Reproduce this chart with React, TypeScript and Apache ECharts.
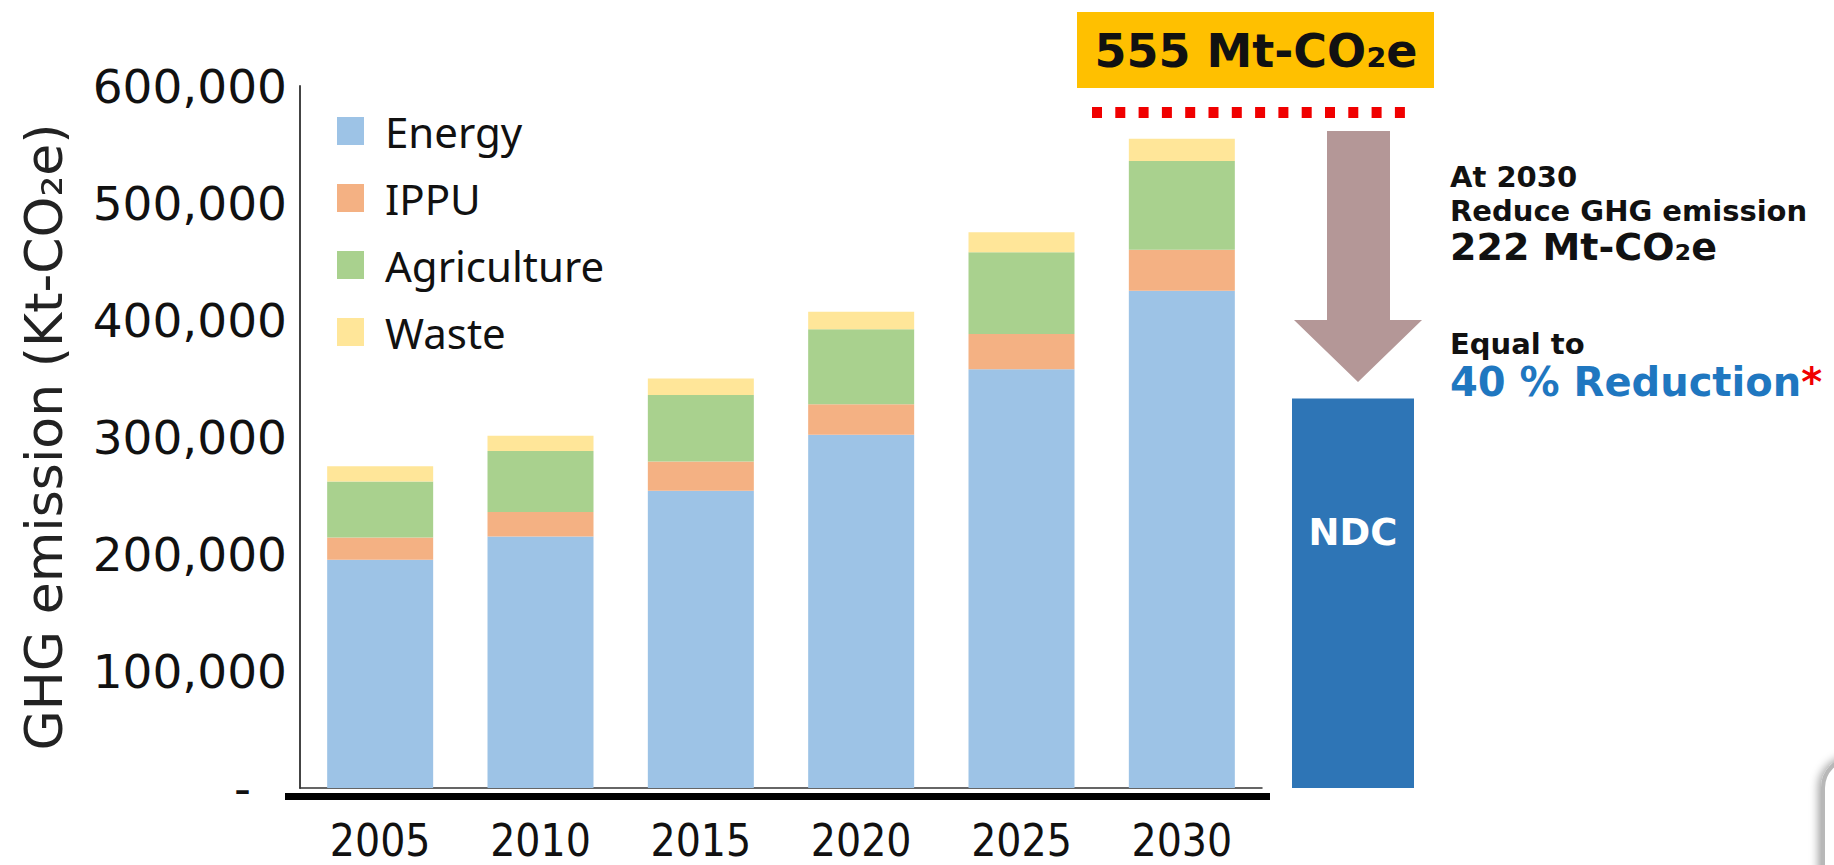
import React, { useEffect, useRef } from 'react';
import * as echarts from 'echarts';

const years = ['2005', '2010', '2015', '2020', '2025', '2030'];
const energy = [195000, 215000, 254000, 302000, 358000, 425000];
const ippu = [19000, 21000, 25000, 26000, 30000, 35000];
const agriculture = [48000, 52000, 57000, 64000, 70000, 76000];
const waste = [13000, 13000, 14000, 15000, 17000, 19000];
const ndcCategory = ['NDC'];
const ndcValue = [333000];
const seriesNames = ['Energy', 'IPPU', 'Agriculture', 'Waste'];
const seriesColors = ['#9DC3E6', '#F4B183', '#A9D18E', '#FFE699'];
const yMax = 600000;
const yInterval = 100000;

const SANS = '"DejaVu Sans", Verdana, sans-serif';

export default function App() {
  const ref = useRef<HTMLDivElement>(null);
  useEffect(() => {
    if (!ref.current) return;
    const chart = echarts.init(ref.current, undefined, { renderer: 'svg' });
    const values = [energy, ippu, agriculture, waste];
    const barSeries = seriesNames.map((name, i) => ({
      name,
      type: 'bar',
      stack: 'total',
      xAxisIndex: 0,
      yAxisIndex: 0,
      barWidth: 106,
      itemStyle: { color: seriesColors[i] },
      data: values[i],
    }));
    const note = (text: string, y: number, size: number) => ({
      type: 'text',
      x: 1450,
      y,
      silent: true,
      style: {
        text,
        verticalAlign: 'middle',
        fontFamily: SANS,
        fontWeight: 'bold',
        fontSize: size,
        lineHeight: size,
        fill: '#111',
      },
    });
    chart.setOption({
      animation: false,
      backgroundColor: '#ffffff',
      legend: {
        orient: 'vertical',
        left: 332,
        top: 105,
        itemWidth: 27,
        itemHeight: 28,
        itemGap: 25,
        icon: 'rect',
        data: seriesNames,
        textStyle: {
          fontFamily: '"Noto Sans", sans-serif',
          fontSize: 42,
          color: '#111',
          padding: [0, 0, 0, 16],
        },
      },
      grid: [
        { left: 300, top: 86, width: 962, height: 702, containLabel: false, outerBoundsMode: 'none' },
        { left: 1292, top: 86, width: 122, height: 702, containLabel: false, outerBoundsMode: 'none' },
      ],
      xAxis: [
        {
          type: 'category',
          gridIndex: 0,
          data: years,
          axisLine: { show: true, lineStyle: { color: '#333', width: 1.5 } },
          axisTick: { show: false },
          axisLabel: {
            margin: 30,
            fontSize: 44,
            lineHeight: 44,
            fontFamily: '"Liberation Sans Narrow", "DejaVu Sans Condensed", sans-serif',
            color: '#111',
          },
        },
        {
          type: 'category',
          gridIndex: 1,
          data: ndcCategory,
          show: false,
        },
      ],
      yAxis: [
        {
          type: 'value',
          gridIndex: 0,
          min: 0,
          max: yMax,
          interval: yInterval,
          name: 'GHG emission (Kt-CO₂e)',
          nameLocation: 'middle',
          nameGap: 230,
          nameTextStyle: { fontFamily: SANS, fontSize: 52, lineHeight: 52, color: '#222' },
          axisLine: { show: true, lineStyle: { color: '#444', width: 2 } },
          axisTick: { show: false },
          splitLine: { show: false },
          axisLabel: {
            margin: 13,
            fontFamily: SANS,
            fontSize: 47,
            color: '#111',
            formatter: (v: number) => (v === 0 ? '{z|-}' : v.toLocaleString('en-US')),
            rich: { z: { padding: [0, 36, 0, 0], fontFamily: SANS, fontSize: 47, color: '#111' } },
          },
        },
        {
          type: 'value',
          gridIndex: 1,
          min: 0,
          max: yMax,
          interval: yInterval,
          show: false,
          splitLine: { show: false },
        },
      ],
      series: [
        ...barSeries,
        {
          name: 'NDC',
          type: 'bar',
          xAxisIndex: 1,
          yAxisIndex: 1,
          barWidth: '100%',
          itemStyle: { color: '#2E75B6' },
          label: {
            show: true,
            formatter: 'NDC',
            position: ['50%', 134],
            align: 'center',
            verticalAlign: 'middle',
            color: '#ffffff',
            fontFamily: SANS,
            fontWeight: 'bold',
            fontSize: 37,
          },
          data: ndcValue,
        },
      ],
      graphic: {
        elements: [
          {
            type: 'line',
            shape: { x1: 285, y1: 796.5, x2: 1270, y2: 796.5 },
            style: { stroke: '#000', lineWidth: 7 },
            silent: true,
          },
          {
            type: 'rect',
            shape: { x: 1077, y: 12, width: 357, height: 76 },
            style: { fill: '#FFC000' },
            silent: true,
          },
          {
            type: 'text',
            x: 1256,
            y: 51,
            style: {
              text: '555 Mt-CO₂e',
              align: 'center',
              verticalAlign: 'middle',
              fontFamily: SANS,
              fontWeight: 'bold',
              fontSize: 46,
              lineHeight: 46,
              fill: '#111',
            },
            silent: true,
          },
          {
            type: 'line',
            shape: { x1: 1092, y1: 112.5, x2: 1405, y2: 112.5 },
            style: { stroke: '#F00000', lineWidth: 11, lineDash: [10, 13.3] },
            silent: true,
          },
          {
            type: 'polygon',
            shape: {
              points: [
                [1327, 131],
                [1390, 131],
                [1390, 320],
                [1422, 320],
                [1358, 382],
                [1294, 320],
                [1327, 320],
              ],
            },
            style: { fill: '#B49797' },
            silent: true,
          },
          note('At 2030', 177, 29),
          note('Reduce GHG emission', 211, 29),
          note('222 Mt-CO₂e', 247, 38),
          note('Equal to', 344, 29),
          {
            type: 'text',
            x: 1450,
            y: 382,
            silent: true,
            style: {
              text: '{b|40 % Reduction}{r|*}',
              verticalAlign: 'middle',
              fontFamily: SANS,
              fontWeight: 'bold',
              fontSize: 40,
              lineHeight: 40,
              rich: {
                b: { fill: '#1F77C0', fontFamily: SANS, fontWeight: 'bold', fontSize: 40, lineHeight: 40 },
                r: { fill: '#F00000', fontFamily: SANS, fontWeight: 'bold', fontSize: 40, lineHeight: 40 },
              },
            },
          },
          {
            type: 'rect',
            shape: { x: 1823, y: 758, width: 120, height: 200, r: 30 },
            style: { fill: '#ffffff', stroke: '#b8b8b8', lineWidth: 4, shadowBlur: 8, shadowColor: 'rgba(0,0,0,0.35)', shadowOffsetX: -3 },
            silent: true,
          },
        ],
      },
    });
    return () => chart.dispose();
  }, []);
  return <div ref={ref} style={{ position: 'fixed', left: 0, top: 0, width: 1834, height: 865 }} />;
}
